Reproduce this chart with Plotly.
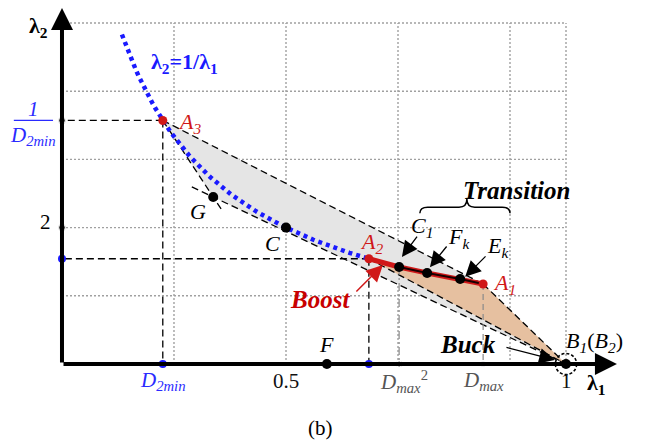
import numpy as np
import plotly.graph_objects as go

# ---------------- data ----------------
point_names = ["A3", "G", "C", "A2", "C1", "Fk", "Ek", "A1", "B1", "F"]
point_l1 = [0.280, 0.370, 0.500, 0.648, 0.702, 0.752, 0.811, 0.852, 1.000, 0.573]
point_l2 = [3.571, 2.449, 2.000, 1.543, 1.422, 1.334, 1.246, 1.173, 0.000, 0.000]

curve_l1 = np.linspace(0.207, 0.648, 90)      # lambda2 = 1/lambda1 (labelled curve)
curve_l2 = 1.0 / curve_l1

grid_l1 = [0.3, 0.5, 0.7, 0.9, 1.0]
grid_l2 = [1, 2, 3, 4, 5]
axis_l1_origin = 0.1
axis_x_end = 1.091
axis_y_end = 5.22

xtick_vals = [0.280, 0.500, 0.702, 0.852, 1.000]
xtick_text = ["<i>D<sub>2min</sub></i>", "0.5", "<i>D<sub>max</sub></i><sup>2</sup>",
              "<i>D<sub>max</sub></i>", "1"]
xtick_colors = ["#2a2aff", "#111111", "#555555", "#555555", "#111111"]

P = {n: (a, b) for n, a, b in zip(point_names, point_l1, point_l2)}

FONT = "Times New Roman"
RED = "#d01818"
BLUE = "#1a1aff"
fig = go.Figure()

def seg(p, q, color="black", width=1.3, dash="7px,4px"):
    fig.add_trace(go.Scatter(x=[p[0], q[0]], y=[p[1], q[1]], mode="lines",
                             line=dict(color=color, width=width, dash=dash),
                             hoverinfo="skip", showlegend=False))

# ---------------- grid ----------------
for gx in grid_l1:
    fig.add_shape(type="line", x0=gx, x1=gx, y0=0, y1=grid_l2[-1], layer="below",
                  line=dict(color="#a0a0a0", width=1.4, dash="2px,2px"))
for gy in grid_l2:
    fig.add_shape(type="line", x0=axis_l1_origin, x1=grid_l1[-1], y0=gy, y1=gy, layer="below",
                  line=dict(color="#a0a0a0", width=1.4, dash="2px,2px"))

# ---------------- regions ----------------
gray_poly = ["A3", "A1", "B1", "G", "A3"]
fig.add_trace(go.Scatter(x=[P[n][0] for n in gray_poly], y=[P[n][1] for n in gray_poly],
                         mode="lines", fill="toself", fillcolor="#e5e5e5",
                         line=dict(width=0), hoverinfo="skip", showlegend=False))
tan_poly = ["A2", "C1", "Fk", "Ek", "A1", "B1", "A2"]
fig.add_trace(go.Scatter(x=[P[n][0] for n in tan_poly], y=[P[n][1] for n in tan_poly],
                         mode="lines", fill="toself", fillcolor="#e6c0a0",
                         line=dict(width=0), hoverinfo="skip", showlegend=False))

# dashed region edges
seg(P["A3"], P["A1"])
seg(P["A1"], P["B1"])
seg(P["A2"], P["B1"])
G, A3, B1 = np.array(P["G"]), np.array(P["A3"]), np.array(P["B1"])
seg(B1, G + 0.07 * (G - B1))
seg(A3, G + 0.18 * (G - A3))

# projections
seg(P["A3"], (axis_l1_origin, P["A3"][1]))
seg(P["A3"], (P["A3"][0], 0))
seg(P["A2"], (axis_l1_origin, P["A2"][1]))
seg(P["A2"], (P["A2"][0], 0))
seg(P["C1"], (P["C1"][0], 0), color="#8a8a8a", width=1.2, dash="8px,3px,2px,3px")
seg(P["A1"], (P["A1"][0], 0), color="#8a8a8a", width=1.2, dash="6px,4px")

# transition path
tr = ["A2", "C1", "Fk", "Ek", "A1"]
fig.add_trace(go.Scatter(x=[P[n][0] for n in tr], y=[P[n][1] for n in tr], mode="lines",
                         line=dict(color=RED, width=5), hoverinfo="skip", showlegend=False))
fig.add_trace(go.Scatter(x=[P[n][0] for n in tr[1:]], y=[P[n][1] for n in tr[1:]], mode="lines",
                         line=dict(color="#1a0000", width=2.2), hoverinfo="skip", showlegend=False))

# blue curve
fig.add_trace(go.Scatter(x=curve_l1, y=curve_l2, mode="lines",
                         line=dict(color=BLUE, width=4.5, dash="4px,4px"),
                         hoverinfo="skip", showlegend=False))

# points
black_pts = ["G", "C", "C1", "Fk", "Ek", "F", "B1"]
fig.add_trace(go.Scatter(x=[P[n][0] for n in black_pts], y=[P[n][1] for n in black_pts],
                         mode="markers", marker=dict(color="black", size=10),
                         hoverinfo="skip", showlegend=False))
red_pts = ["A3", "A2", "A1"]
fig.add_trace(go.Scatter(x=[P[n][0] for n in red_pts], y=[P[n][1] for n in red_pts],
                         mode="markers", marker=dict(color=RED, size=9),
                         hoverinfo="skip", showlegend=False))
# axis dots
fig.add_trace(go.Scatter(x=[P["A3"][0], P["A2"][0], axis_l1_origin],
                         y=[0, 0, P["A2"][1]], mode="markers",
                         marker=dict(color=BLUE, size=8), hoverinfo="skip", showlegend=False))
fig.add_trace(go.Scatter(x=[axis_l1_origin, axis_l1_origin, P["C1"][0], P["A1"][0]],
                         y=[P["A3"][1], 2, 0, 0], mode="markers",
                         marker=dict(color=["black", "black", "black", "#1a1a50"], size=[7, 7, 6, 5]),
                         hoverinfo="skip", showlegend=False))

# dashed circle at B1
fig.add_shape(type="circle", x0=1 - 0.019, x1=1 + 0.019, y0=-0.155, y1=0.155,
              line=dict(color="black", width=1.6, dash="3px,2px"))

# brace over transition
bx0, bx1, bxm = 0.739, 0.900, 0.823
by_end, by_bar, by_tip = 2.21, 2.30, 2.42
d = 0.014
brace = (f"M{bx0},{by_end} Q{bx0},{by_bar} {bx0+d},{by_bar} L{bxm-d},{by_bar} "
         f"Q{bxm},{by_bar} {bxm},{by_tip} Q{bxm},{by_bar} {bxm+d},{by_bar} "
         f"L{bx1-d},{by_bar} Q{bx1},{by_bar} {bx1},{by_end}")
fig.add_shape(type="path", path=brace, line=dict(color="black", width=1.5))

# fraction bar for 1/D2min
fig.add_shape(type="line", x0=0.014, x1=0.084, y0=P["A3"][1], y1=P["A3"][1],
              line=dict(color="#2a2aff", width=1.2))

# ---------------- arrows ----------------
def arrow(p0, p1, color="black", width=1.3, size=2.4, head=2):
    fig.add_annotation(x=p1[0], y=p1[1], ax=p0[0], ay=p0[1], xref="x", yref="y",
                       axref="x", ayref="y", showarrow=True, arrowhead=head,
                       arrowwidth=width, arrowsize=size, arrowcolor=color, text="", standoff=0)

arrow((axis_l1_origin, 0), (axis_x_end, 0), width=4, size=1.1)
arrow((axis_l1_origin, 0), (axis_l1_origin, axis_y_end), width=4, size=1.1)
arrow((0.736, 1.89), (0.707, 1.57))
arrow((0.789, 1.745), (0.757, 1.42))
arrow((0.859, 1.60), (0.820, 1.28))
arrow((0.891, 0.249), (0.980, 0.059))
arrow((0.623, 1.041), (0.673, 1.452), color=RED, width=1.5, size=2.2)

# ---------------- text ----------------
def txt(x, y, s, size=22, color="black", xanchor="center"):
    fig.add_annotation(x=x, y=y, xref="x", yref="y", text=s, showarrow=False,
                       xanchor=xanchor, yanchor="middle",
                       font=dict(family=FONT, size=size, color=color))

txt(0.058, 4.94, "<b>λ<sub>2</sub></b>", size=22)
txt(0.318, 4.41, "<b>λ<sub>2</sub>=1/λ<sub>1</sub></b>", size=22, color=BLUE)
txt(0.049, 3.74, "<i>1</i>", size=21, color="#2a2aff")
txt(0.049, 3.34, "<i>D<sub>2min</sub></i>", size=21, color="#2a2aff")
txt(0.071, 2.08, "2", size=21)
txt(0.327, 3.53, "<i>A<sub>3</sub></i>", color=RED)
txt(0.343, 2.24, "<i>G</i>")
txt(0.475, 1.76, "<i>C</i>")
txt(0.653, 1.78, "<i>A<sub>2</sub></i>", color=RED)
txt(0.743, 2.01, "<i>C<sub>1</sub></i>")
txt(0.809, 1.85, "<i>F<sub>k</sub></i>")
txt(0.879, 1.72, "<i>E<sub>k</sub></i>")
txt(0.890, 1.17, "<i>A<sub>1</sub></i>", color=RED)
txt(0.911, 2.54, "<b><i>Transition</i></b>", size=25)
txt(0.561, 0.94, "<b><i>Boost</i></b>", size=25, color="#c80000")
txt(0.825, 0.29, "<b><i>Buck</i></b>", size=25)
txt(1.051, 0.33, "<i>B<sub>1</sub></i>(<i>B<sub>2</sub></i>)", size=22)
txt(0.573, 0.29, "<i>F</i>")
for v, t, c in zip(xtick_vals, xtick_text, xtick_colors):
    txt(v + (0.008 if "sup" in t else 0), -0.25, t, size=21, color=c)
txt(1.055, -0.29, "<b>λ<sub>1</sub></b>", size=22)
txt(0.561, -0.94, "(b)", size=21)

fig.update_layout(
    width=650, height=443, margin=dict(l=0, r=0, t=0, b=0),
    paper_bgcolor="white", plot_bgcolor="white",
    xaxis=dict(range=[-0.0107, 1.15], visible=False, fixedrange=True),
    yaxis=dict(range=[-1.158, 5.337], visible=False, fixedrange=True),
    showlegend=False,
)
fig.write_html("out.html")
